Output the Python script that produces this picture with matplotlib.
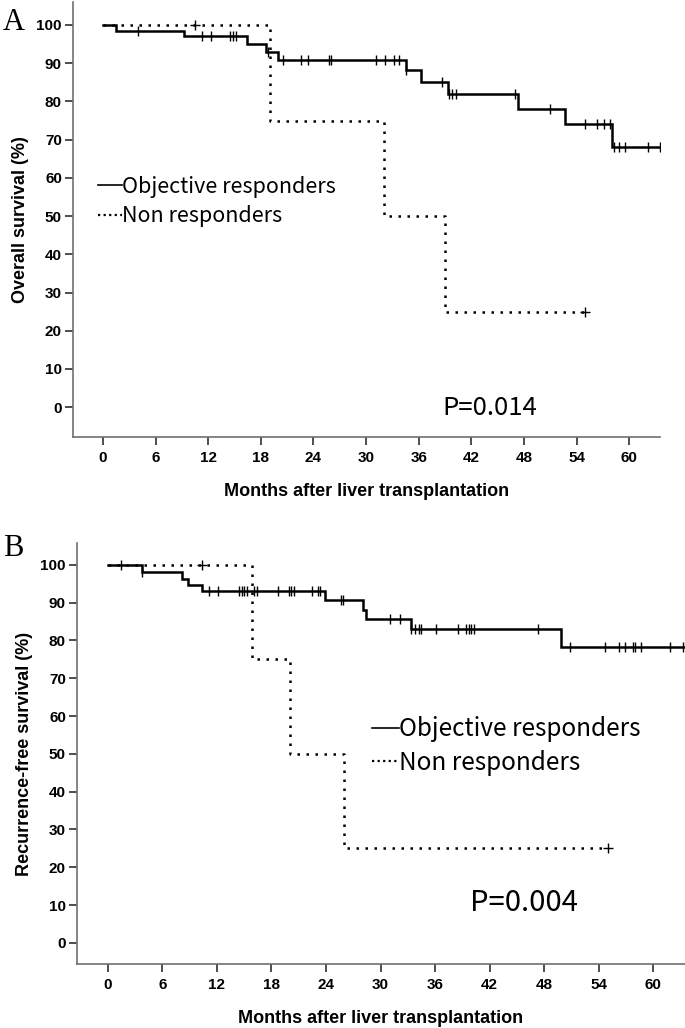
import numpy as np
import matplotlib
matplotlib.use('Agg')
import matplotlib.pyplot as plt
from matplotlib.lines import Line2D

# Panel A: overall survival
os_resp_t = [0, 1.5, 9.2, 16.4, 18.6, 20.0, 34.5, 36.3, 39.3, 47.3, 52.7, 58.0]
os_resp_s = [100, 98.3, 97.0, 94.9, 92.9, 90.9, 88.1, 85.1, 81.9, 77.9, 74.0, 68.2]
os_resp_end = 63.5
os_resp_cens = [4.0, 11.3, 12.3, 14.5, 14.8, 15.2, 18.8, 20.5, 22.6, 23.4, 25.8, 26.0,
                31.1, 32.1, 33.2, 33.8, 34.6, 38.6, 39.5, 39.8, 40.2, 47.0, 51.0,
                54.9, 56.3, 57.1, 57.8, 58.2, 58.8, 59.5, 62.1, 63.5]
os_non_t = [0, 19.0, 32.0, 39.0]
os_non_s = [100, 75, 50, 25]
os_non_end = 55.0
os_non_cens = [10.5, 55.0]

# Panel B: recurrence-free survival
rfs_resp_t = [0, 3.7, 8.2, 8.8, 10.4, 23.9, 28.1, 28.4, 33.4, 49.9]
rfs_resp_s = [100, 98.1, 96.4, 94.7, 93.0, 90.7, 88.1, 85.6, 83.0, 78.4]
rfs_resp_end = 63.7
rfs_resp_cens = [1.4, 3.8, 11.1, 12.1, 14.4, 14.8, 15.0, 15.3, 16.1, 16.4, 18.7, 19.9,
                 20.2, 20.5, 22.5, 23.1, 23.3, 25.6, 25.9, 31.0, 32.1, 33.4, 33.8, 34.2,
                 34.4, 36.1, 38.5, 39.4, 39.7, 40.0, 40.3, 47.3, 50.9, 54.7, 56.2, 56.9,
                 57.8, 58.0, 58.7, 61.9, 63.3]
rfs_non_t = [0, 15.9, 20.0, 26.0]
rfs_non_s = [100, 75, 50, 25]
rfs_non_end = 55.0
rfs_non_cens = [10.4, 55.0]

xticks = list(range(0, 61, 6))
yticks = list(range(0, 101, 10))

label_font = ['Liberation Sans', 'DejaVu Sans']
cjk_font = ['Noto Sans CJK SC', 'DejaVu Sans']
DOT = (0, (1, 2.6))


def km(ax, t, s, end, cens, ls, marker):
    t = np.array(t + [end])
    s = np.array(s + [s[-1]])
    ax.step(t, s, where='post', color='black', lw=1.8, ls=ls,
            solid_joinstyle='miter')
    idx = np.searchsorted(t, cens, side='right') - 1
    cy = s[np.clip(idx, 0, len(s) - 1)]
    ax.plot(cens, cy, ls='none', marker=marker, color='black',
            markersize=7, markeredgewidth=1.0)


def style_axes(ax, ylabel, ylim):
    ax.set_xlim(-3.4, 63.5)
    ax.set_ylim(*ylim)
    tick_kw = dict(family=label_font, fontweight='bold', fontsize=11)
    ax.set_xticks(xticks, labels=[str(v) for v in xticks], **tick_kw)
    ax.set_yticks(yticks, labels=[str(v) for v in yticks], **tick_kw)
    for sp in ['top', 'right']:
        ax.spines[sp].set_visible(False)
    for sp in ['left', 'bottom']:
        ax.spines[sp].set_color('#707070')
        ax.spines[sp].set_linewidth(1.2)
    ax.tick_params(length=6, width=1.3, color='#404040', pad=2)
    ax.tick_params(axis='x', pad=4)
    ax.set_xlabel('Months after liver transplantation', family=label_font,
                  fontweight='bold', fontsize=13, labelpad=13)
    ax.set_ylabel(ylabel, family=label_font, fontweight='bold',
                  fontsize=13, labelpad=5)


fig = plt.figure(figsize=(6.85, 10.28), dpi=100)

# Panel A
ax1 = fig.add_axes([0.1066, 0.5749, 0.857, 0.4231])
km(ax1, os_resp_t, os_resp_s, os_resp_end, os_resp_cens, '-', '|')
km(ax1, os_non_t, os_non_s, os_non_end, os_non_cens, DOT, '+')
style_axes(ax1, 'Overall survival (%)', (-7.8, 106))
handles = [Line2D([], [], color='black', lw=1.2, ls='-'),
           Line2D([], [], color='black', lw=1.6, ls=(0, (1, 1.5)))]
ax1.legend(handles, ['Objective responders', 'Non responders'],
           loc='upper left', bbox_to_anchor=(0.01, 0.645), frameon=False,
           handlelength=1.1, handletextpad=0.0, labelspacing=0.35,
           prop={'family': cjk_font, 'size': 15.5})
ax1.text(0.71, 0.066, 'P=0.014', transform=ax1.transAxes, ha='center',
         va='center', family=cjk_font, fontsize=18.5)
fig.text(0.004, 1 - 22 / 1028, 'A', family=['Liberation Serif', 'DejaVu Serif'],
         fontsize=22, va='center', ha='left')

# Panel B
ax2 = fig.add_axes([0.1124, 0.0623, 0.8876, 0.4095])
km(ax2, rfs_resp_t, rfs_resp_s, rfs_resp_end, rfs_resp_cens, '-', '|')
km(ax2, rfs_non_t, rfs_non_s, rfs_non_end, rfs_non_cens, DOT, '+')
style_axes(ax2, 'Recurrence-free survival (%)', (-5.6, 105.8))
ax2.legend(handles, ['Objective responders', 'Non responders'],
           loc='upper left', bbox_to_anchor=(0.45, 0.64), frameon=False,
           handlelength=1.1, handletextpad=0.0, labelspacing=0.3,
           prop={'family': cjk_font, 'size': 17.5})
ax2.text(0.735, 0.145, 'P=0.004', transform=ax2.transAxes, ha='center',
         va='center', family=cjk_font, fontsize=21)
fig.text(0.004, 1 - 548 / 1028, 'B', family=['Liberation Serif', 'DejaVu Serif'],
         fontsize=22, va='center', ha='left')

fig.savefig('out.png', dpi=100)
